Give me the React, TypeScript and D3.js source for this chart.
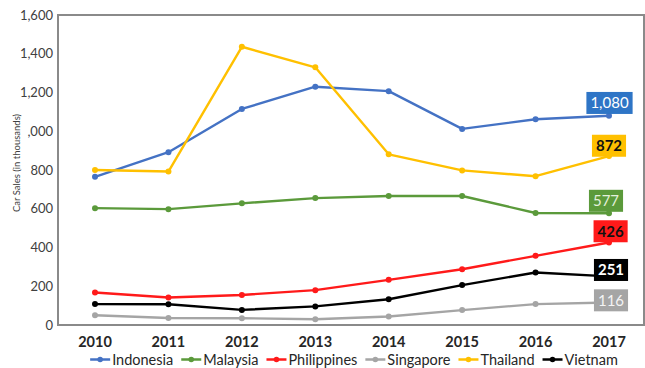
import React from "react";
import * as d3 from "d3";

// Annual car sales, thousands of units
const years = [2010, 2011, 2012, 2013, 2014, 2015, 2016, 2017];
const indonesia = [765, 892, 1115, 1230, 1207, 1012, 1062, 1080];
const malaysia = [603, 598, 628, 655, 666, 666, 578, 577];
const philippines = [168, 142, 155, 180, 233, 288, 357, 426];
const singapore = [50, 36, 35, 30, 44, 77, 108, 116];
const thailand = [800, 792, 1436, 1330, 881, 798, 768, 872];
const vietnam = [108, 107, 78, 96, 133, 206, 271, 251];
const yTicks = [0, 200, 400, 600, 800, 1000, 1200, 1400, 1600];

type Series = {
  name: string;
  values: number[];
  color: string;
  boxFill: string;
  textColor: string;
  bold: boolean;
  dx: number;
  dy: number;
};

const series: Series[] = [
  { name: "Indonesia", values: indonesia, color: "#4472C4", boxFill: "#2E75C6", textColor: "#ffffff", bold: false, dx: 0.5, dy: -12.8 },
  { name: "Malaysia", values: malaysia, color: "#5B9A3B", boxFill: "#5B9A3B", textColor: "#E4F0DC", bold: false, dx: -3, dy: -12.4 },
  { name: "Philippines", values: philippines, color: "#FF1A1A", boxFill: "#FF1A1A", textColor: "#111111", bold: true, dx: 1.6, dy: -11.2 },
  { name: "Singapore", values: singapore, color: "#A5A5A5", boxFill: "#A5A5A5", textColor: "#F4F4F4", bold: false, dx: 2, dy: -2.2 },
  { name: "Thailand", values: thailand, color: "#FFC000", boxFill: "#FFC000", textColor: "#111111", bold: true, dx: 0, dy: -10.3 },
  { name: "Vietnam", values: vietnam, color: "#000000", boxFill: "#000000", textColor: "#ffffff", bold: true, dx: 2, dy: -6.4 },
];

const W = 645;
const H = 368;
const frame = { left: 58, top: 15, right: 644, bottom: 325 };
const FONT = "Lato, 'Open Sans', 'Liberation Sans', sans-serif";

const measure = (() => {
  const canvas = typeof document !== "undefined" ? document.createElement("canvas") : null;
  const ctx = canvas ? canvas.getContext("2d") : null;
  return (text: string, font: string) => {
    if (!ctx) return text.length * 7;
    ctx.font = font;
    return ctx.measureText(text).width;
  };
})();

export default function App() {
  const x = d3.scalePoint<number>().domain(years).range([95, 609]);
  const y = d3.scaleLinear().domain([0, 1600]).range([frame.bottom, frame.top]);
  const fmt = d3.format(",");

  const line = d3
    .line<number>()
    .x((_, i) => x(years[i]) as number)
    .y((v) => y(v));

  // Legend layout: centred row of marker + label pairs
  const legendFontSize = 14.5;
  const legendFont = `${legendFontSize}px Lato`;
  const markerW = 20;
  const itemGap = 8;
  const widths = series.map((s) => measure(s.name, legendFont));
  const total =
    widths.reduce((a, b) => a + b, 0) + series.length * (markerW + 2) + (series.length - 1) * itemGap;
  let cursor = 354 - total / 2;
  const legendItems = series.map((s, i) => {
    const x0 = cursor;
    cursor += markerW + 2 + widths[i] + itemGap;
    return { s, x0 };
  });

  const last = years.length - 1;

  return (
    <svg
      width={W}
      height={H}
      style={{ position: "absolute", left: 0, top: 0, background: "#fff" }}
      fontFamily={FONT}
    >
      <rect width={W} height={H} fill="#fff" />

      {/* y tick labels */}
      {yTicks.map((t) => (
        <text
          key={t}
          x={53}
          y={y(t)}
          dy="0.35em"
          textAnchor="end"
          fontSize={13}
          fill="#404040"
        >
          {fmt(t)}
        </text>
      ))}

      {/* axis title with its own white backing */}
      <rect x={9} y={108} width={18.5} height={112} fill="#fff" />
      <text
        transform={`translate(16.5,163) rotate(-90)`}
        textAnchor="middle"
        dy="0.35em"
        fontSize={9.5}
        fill="#404040"
      >
        Car Sales (in thousands)
      </text>

      {/* plot frame */}
      <rect
        x={frame.left}
        y={frame.top}
        width={frame.right - frame.left}
        height={frame.bottom - frame.top}
        fill="none"
        stroke="#8a8a8a"
        strokeWidth={2}
      />

      {/* x tick labels */}
      {years.map((yr) => (
        <text
          key={yr}
          x={x(yr)}
          y={347}
          textAnchor="middle"
          fontSize={14.5}
          fontWeight="bold"
          fill="#262626"
        >
          {yr}
        </text>
      ))}

      {/* series lines and markers */}
      {series.map((s) => (
        <g key={s.name}>
          <path d={line(s.values) || ""} fill="none" stroke={s.color} strokeWidth={2.4} strokeLinejoin="round" />
          {s.values.map((v, i) => (
            <circle key={i} cx={x(years[i])} cy={y(v)} r={3} fill={s.color} />
          ))}
        </g>
      ))}

      {/* end-of-series value callouts */}
      {series.map((s) => {
        const v = s.values[last];
        const label = fmt(v);
        const fs = 15;
        const tw = measure(label, `${s.bold ? "bold " : ""}${fs}px Lato`);
        const bw = tw + 8;
        const bh = 22;
        const cx = (x(years[last]) as number) + s.dx;
        const cy = y(v) + s.dy;
        return (
          <g key={s.name + "-label"}>
            <rect x={cx - bw / 2} y={cy - bh / 2} width={bw} height={bh} fill={s.boxFill} />
            <text
              x={cx}
              y={cy}
              dy="0.35em"
              textAnchor="middle"
              fontSize={fs}
              fontWeight={s.bold ? "bold" : "normal"}
              fill={s.textColor}
            >
              {label}
            </text>
          </g>
        );
      })}

      {/* legend */}
      {legendItems.map(({ s, x0 }) => (
        <g key={s.name + "-legend"}>
          <line x1={x0} x2={x0 + markerW} y1={359.5} y2={359.5} stroke={s.color} strokeWidth={2.5} />
          <circle cx={x0 + markerW / 2} cy={359.5} r={2.8} fill={s.color} />
          <text x={x0 + markerW + 2} y={364.5} fontSize={legendFontSize} fill="#262626">
            {s.name}
          </text>
        </g>
      ))}
    </svg>
  );
}
